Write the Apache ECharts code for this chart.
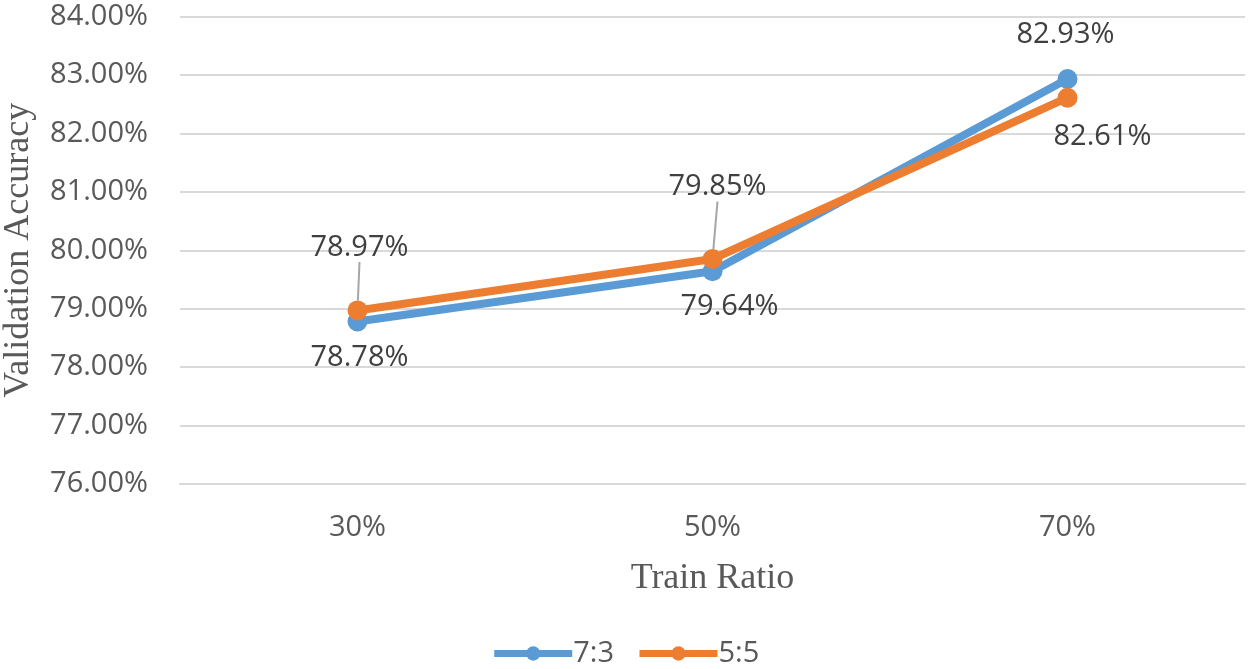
<!DOCTYPE html>
<html>
<head>
<meta charset="utf-8">
<script src="https://cdn.jsdelivr.net/npm/echarts@6/dist/echarts.min.js"></script>
<style>
html,body{margin:0;padding:0;background:#fff;}
#chart{width:1250px;height:669px;}
</style>
</head>
<body>
<div id="chart"></div>
<script>
const categories = ['30%', '50%', '70%'];
const series73 = [78.78, 79.64, 82.93];
const series55 = [78.97, 79.85, 82.61];
const seriesNames = ['7:3', '5:5'];
const yMin = 76, yMax = 84, yStep = 1;

const sans = '"Open Sans", "Noto Sans", sans-serif';
const serif = '"Liberation Serif", "DejaVu Serif", serif';

// label offsets (pixels from point to label centre) – styling only
const off73 = [[2, 36], [17, 35], [-2, -44]];
const off55 = [[2, -63], [5, -72], [35, 39]];

function makeSeries(name, data, color, offs, lineFlags) {
  return {
    name: name,
    type: 'line',
    data: data.map((v, i) => ({
      value: v,
      labelLine: { show: lineFlags[i] }
    })),
    symbol: 'circle',
    symbolSize: 20,
    lineStyle: { color: color, width: 8 },
    itemStyle: { color: color },
    label: {
      show: true,
      position: 'inside',
      formatter: p => p.value.toFixed(2) + '%',
      fontFamily: sans,
      fontSize: 29,
      color: '#404040'
    },
    labelLine: {
      show: true,
      lineStyle: { color: '#a6a6a6', width: 2 }
    },
    labelLayout: function (p) {
      const o = offs[p.dataIndex];
      return { dx: o[0], dy: o[1] };
    },
    emphasis: { disabled: true },
    animation: false
  };
}

const chart = echarts.init(document.getElementById('chart'), null, { renderer: 'canvas' });
chart.setOption({
  backgroundColor: '#ffffff',
  animation: false,
  grid: { left: 180, right: 5, top: 16.5, bottom: 185, outerBoundsMode: 'none', containLabel: false },
  legend: {
    bottom: -4,
    left: 'center',
    itemWidth: 78,
    itemHeight: 18,
    itemGap: 22,
    lineStyle: { width: 7 },
    textStyle: { fontFamily: sans, fontSize: 29, color: '#595959', padding: [0, 0, 0, -4] },
    data: seriesNames
  },
  xAxis: {
    type: 'category',
    data: categories,
    name: 'Train Ratio',
    nameLocation: 'middle',
    nameGap: 77,
    nameTextStyle: { fontFamily: serif, fontSize: 36, color: '#595959' },
    axisLine: { show: true, lineStyle: { color: '#d9d9d9', width: 2 } },
    axisTick: { show: false },
    axisLabel: { fontFamily: sans, fontSize: 29, color: '#595959', margin: 29 }
  },
  yAxis: {
    type: 'value',
    min: yMin,
    max: yMax,
    interval: yStep,
    name: 'Validation Accuracy',
    nameLocation: 'middle',
    nameGap: 143,
    nameTextStyle: { fontFamily: serif, fontSize: 36, color: '#595959' },
    axisLine: { show: false },
    axisTick: { show: false },
    splitLine: { lineStyle: { color: '#d9d9d9', width: 2 } },
    axisLabel: {
      fontFamily: sans, fontSize: 29, color: '#595959', margin: 32,
      formatter: v => v.toFixed(2) + '%'
    }
  },
  series: [
    makeSeries(seriesNames[0], series73, '#5b9bd5', off73, [false, false, false]),
    makeSeries(seriesNames[1], series55, '#ed7d31', off55, [true, true, false])
  ]
});
</script>
</body>
</html>
